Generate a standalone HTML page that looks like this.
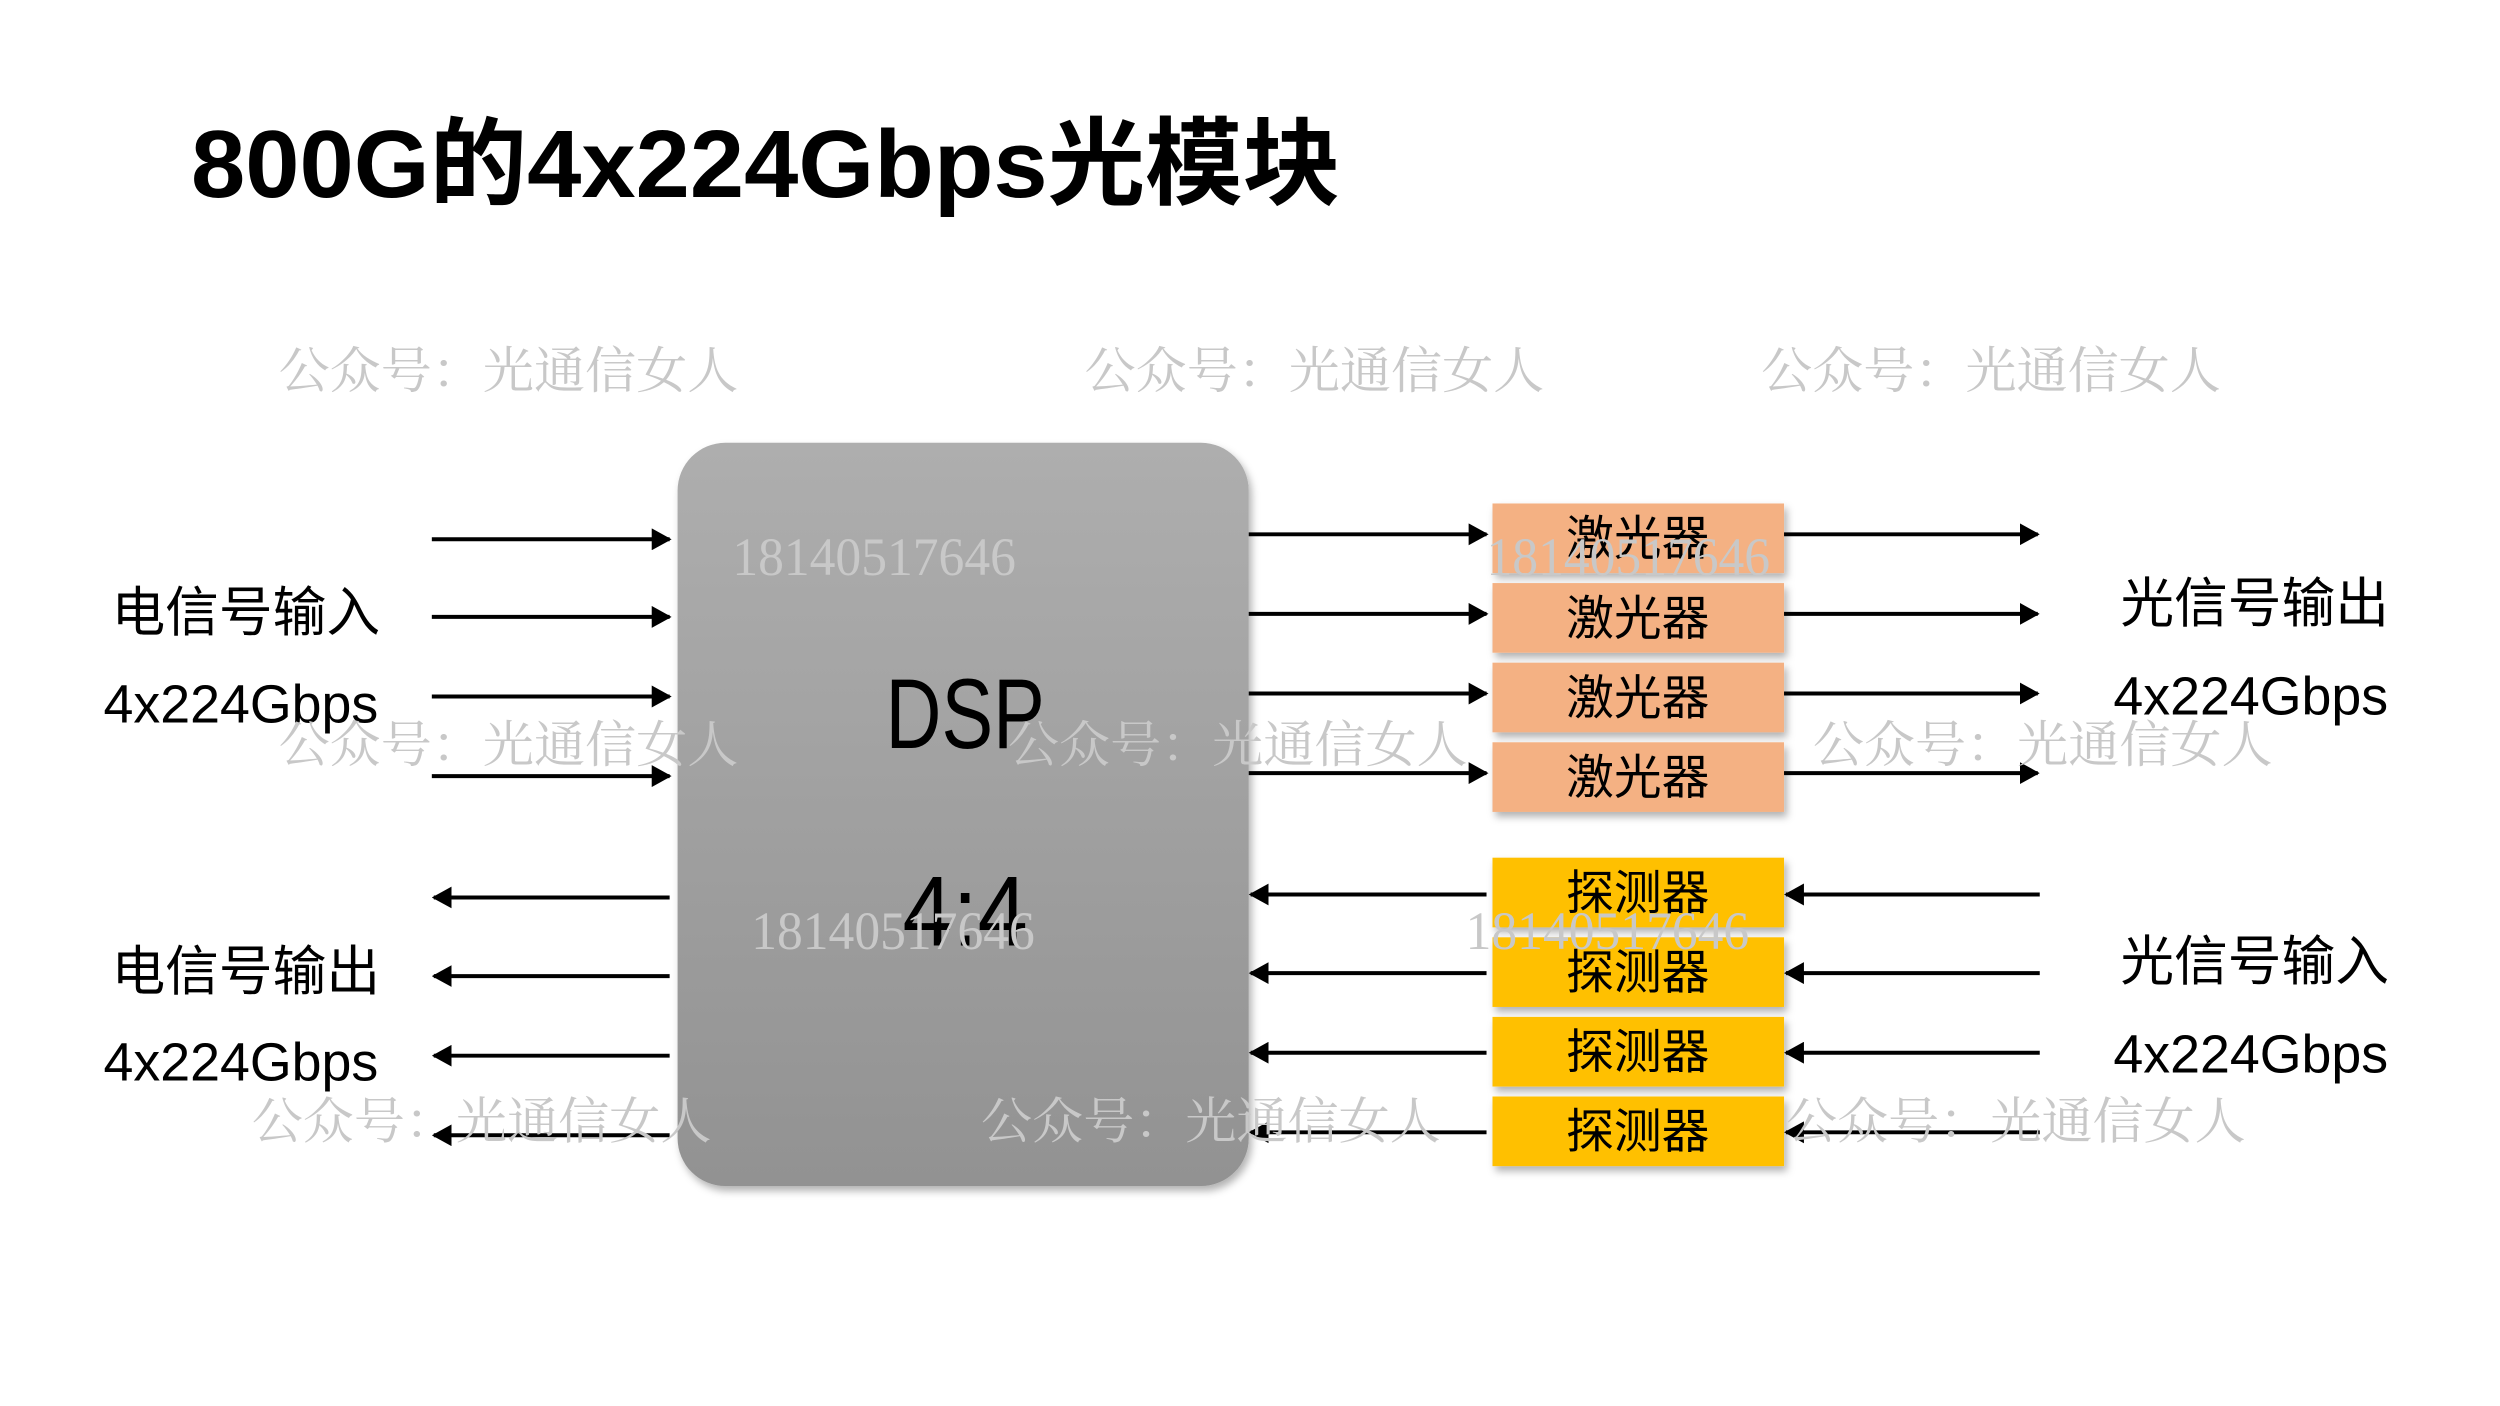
<!DOCTYPE html>
<html><head><meta charset="utf-8"><style>
html,body{margin:0;padding:0;background:#fff;}
svg{display:block;}
text{font-family:"Liberation Sans","Noto Sans CJK SC",sans-serif;}
.wm text{font-family:"Liberation Serif","Noto Serif CJK SC",serif;fill:#c8c8c8;font-size:50px;}
.lbl{font-size:54px;fill:#000;}
.bx{font-size:48px;fill:#000;text-anchor:middle;}
</style></head><body>
<svg width="2500" height="1406" viewBox="0 0 2500 1406" xmlns="http://www.w3.org/2000/svg">
<defs>
<linearGradient id="g" x1="0" y1="0" x2="0" y2="1"><stop offset="0" stop-color="#aeaeae"/><stop offset="1" stop-color="#929292"/></linearGradient>
<marker id="a" markerWidth="20" markerHeight="22" refX="18" refY="11" orient="auto" markerUnits="userSpaceOnUse" viewBox="0 0 20 22"><path d="M0,0 L20,11 L0,22z" fill="#000"/></marker>
<filter id="s" x="-10%" y="-10%" width="130%" height="130%"><feDropShadow dx="3" dy="5" stdDeviation="4" flood-opacity="0.3"/></filter>
</defs>
<g transform="scale(0.995)">
<text x="192" y="198" textLength="1155" lengthAdjust="spacingAndGlyphs" style="font-size:96px;font-weight:bold">800G的4x224Gbps光模块</text>
<rect x="681" y="445" width="574" height="747" rx="48" fill="url(#g)" filter="url(#s)"/>
<text x="890" y="752" textLength="160" lengthAdjust="spacingAndGlyphs" style="font-size:100px">DSP</text>
<text x="907" y="950" textLength="126" lengthAdjust="spacingAndGlyphs" style="font-size:100px">4:4</text>
<g fill="#f4b183" filter="url(#s)">
<rect x="1500" y="506" width="293" height="70"/><rect x="1500" y="586" width="293" height="70"/><rect x="1500" y="666" width="293" height="70"/><rect x="1500" y="746" width="293" height="70"/></g>
<g fill="#ffc000" filter="url(#s)">
<rect x="1500" y="862" width="293" height="70"/><rect x="1500" y="942" width="293" height="70"/><rect x="1500" y="1022" width="293" height="70"/><rect x="1500" y="1102" width="293" height="70"/></g>
<g class="bx">
<text x="1646" y="558">激光器</text><text x="1646" y="638">激光器</text><text x="1646" y="718">激光器</text><text x="1646" y="798">激光器</text>
<text x="1646" y="914">探测器</text><text x="1646" y="994">探测器</text><text x="1646" y="1074">探测器</text><text x="1646" y="1154">探测器</text>
</g>
<g stroke="#000" stroke-width="4" marker-end="url(#a)">
<line x1="434" y1="542" x2="673" y2="542"/><line x1="434" y1="620" x2="673" y2="620"/><line x1="434" y1="700" x2="673" y2="700"/><line x1="434" y1="780" x2="673" y2="780"/>
<line x1="673" y1="902" x2="436" y2="902"/><line x1="673" y1="981" x2="436" y2="981"/><line x1="673" y1="1061" x2="436" y2="1061"/><line x1="673" y1="1141" x2="436" y2="1141"/>
<line x1="1255" y1="537" x2="1494" y2="537"/><line x1="1255" y1="617" x2="1494" y2="617"/><line x1="1255" y1="697" x2="1494" y2="697"/><line x1="1255" y1="777" x2="1494" y2="777"/>
<line x1="1494" y1="899" x2="1257" y2="899"/><line x1="1494" y1="978" x2="1257" y2="978"/><line x1="1494" y1="1058" x2="1257" y2="1058"/><line x1="1494" y1="1138" x2="1257" y2="1138"/>
<line x1="1793" y1="537" x2="2048" y2="537"/><line x1="1793" y1="617" x2="2048" y2="617"/><line x1="1793" y1="697" x2="2048" y2="697"/><line x1="1793" y1="777" x2="2048" y2="777"/>
<line x1="2050" y1="899" x2="1795" y2="899"/><line x1="2050" y1="978" x2="1795" y2="978"/><line x1="2050" y1="1058" x2="1795" y2="1058"/><line x1="2050" y1="1138" x2="1795" y2="1138"/>
</g>
<g class="lbl">
<text x="112" y="634">电信号输入</text><text x="104" y="726">4x224Gbps</text>
<text x="112" y="995">电信号输出</text><text x="104" y="1086">4x224Gbps</text>
<text x="2131" y="625">光信号输出</text><text x="2124" y="718">4x224Gbps</text>
<text x="2131" y="985">光信号输入</text><text x="2124" y="1078">4x224Gbps</text>
</g>
<g class="wm">
<text x="280" y="390" textLength="462" lengthAdjust="spacingAndGlyphs">公众号：光通信女人</text><text x="1090" y="390" textLength="462" lengthAdjust="spacingAndGlyphs">公众号：光通信女人</text><text x="1770" y="390" textLength="462" lengthAdjust="spacingAndGlyphs">公众号：光通信女人</text>
<text x="280" y="766" textLength="462" lengthAdjust="spacingAndGlyphs">公众号：光通信女人</text><text x="1013" y="766" textLength="462" lengthAdjust="spacingAndGlyphs">公众号：光通信女人</text><text x="1822" y="766" textLength="462" lengthAdjust="spacingAndGlyphs">公众号：光通信女人</text>
<text x="253" y="1144" textLength="462" lengthAdjust="spacingAndGlyphs">公众号：光通信女人</text><text x="986" y="1144" textLength="462" lengthAdjust="spacingAndGlyphs">公众号：光通信女人</text><text x="1795" y="1144" textLength="462" lengthAdjust="spacingAndGlyphs">公众号：光通信女人</text>
<text x="736" y="578" textLength="285" lengthAdjust="spacingAndGlyphs" style="font-size:54px">18140517646</text><text x="1494" y="578" textLength="285" lengthAdjust="spacingAndGlyphs" style="font-size:54px">18140517646</text>
<text x="755" y="954" textLength="285" lengthAdjust="spacingAndGlyphs" style="font-size:54px">18140517646</text><text x="1473" y="954" textLength="285" lengthAdjust="spacingAndGlyphs" style="font-size:54px">18140517646</text>
</g>
</g>
</svg>
</body></html>
